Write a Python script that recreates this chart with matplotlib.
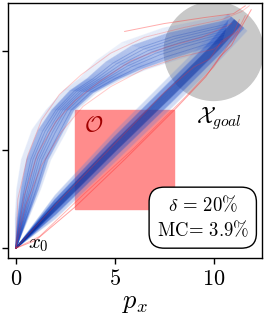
import numpy as np
import matplotlib
matplotlib.use("Agg")
import matplotlib.pyplot as plt
from matplotlib.patches import Rectangle, Circle

plt.rcParams['mathtext.fontset'] = 'cm'
plt.rcParams['font.family'] = ['DejaVu Serif']

# upper family of trajectories (around the obstacle): inner / outer edge
upper_in_x = [0, 0.6, 1.2, 1.7, 2.4, 3.0, 4.0, 5.3, 6.5, 8.0, 9.0, 10.4]
upper_in_y = [0, 1.5, 3.0, 4.5, 5.8, 7.0, 7.9, 8.6, 9.1, 9.6, 9.9, 10.4]
upper_out_x = [0, 0.0, 0.1, 0.35, 0.9, 1.6, 2.5, 3.3, 4.2, 5.5, 7.5, 10.8]
upper_out_y = [0, 1.5, 3.0, 4.5, 6.0, 7.0, 8.0, 8.6, 9.5, 10.4, 11.1, 11.8]

# diagonal family: lower / upper edge
diag_lo_x = [0, 2.0, 5.0, 8.0, 10.4, 11.6]
diag_lo_y = [0, 1.6, 4.5, 7.4, 9.8, 11.1]
diag_hi_x = [0, 2.0, 5.0, 8.0, 9.8, 10.8]
diag_hi_y = [0, 2.6, 5.8, 8.8, 10.6, 11.8]

# failed (red) trajectories
red_paths = [
    ([0, 1.0, 3.0, 5.5, 8.0, 9.6, 10.3, 10.9, 11.5, 11.9],
     [0, 0.4, 2.1, 4.5, 7.0, 8.7, 9.7, 10.3, 11.4, 12.1]),
    ([0, 1.2, 3.5, 6.0, 8.5, 10.0, 10.6, 11.2, 11.6],
     [0, 0.6, 2.8, 5.1, 7.6, 9.2, 10.1, 11.0, 11.8]),
    ([0, 0.1, 0.6, 1.3, 2.2, 3.3, 4.8, 6.5, 8.5, 10.4, 11.4, 11.8],
     [0, 2.5, 4.7, 6.5, 7.8, 8.8, 9.9, 10.7, 11.2, 11.6, 12.0, 12.3]),
    ([0, 0.4, 1.1, 2.0, 3.0, 4.3, 5.8, 7.6, 9.4, 10.9],
     [0, 2.6, 4.8, 6.4, 7.5, 8.5, 9.5, 10.2, 10.7, 11.4]),
    ([0, 0.5, 1.3, 2.3, 3.4, 4.8, 6.5, 8.3, 10.0, 11.2],
     [0, 2.2, 4.2, 5.9, 7.2, 8.2, 9.1, 9.7, 10.1, 11.0]),
    ([0, 2.0, 5.0, 7.5, 9.0, 9.8, 10.4, 11.0, 11.3],
     [0, 2.2, 5.3, 7.9, 9.2, 9.6, 10.5, 10.9, 11.6]),
    ([5.5, 7.5, 9.5, 11.0, 11.6],
     [11.0, 11.4, 11.7, 11.9, 12.3]),
]
red_alpha = [0.45, 0.35, 0.25, 0.25, 0.25, 0.3, 0.4]

obs_x, obs_y, obs_w, obs_h = 3, 2, 5, 5
goal_c, goal_r = (10, 10), 2.5

fig = plt.figure(figsize=(2.65, 3.19), dpi=100)
ax = fig.add_axes([0.030, 0.191, 0.959, 0.800])

ax.add_patch(Rectangle((obs_x, obs_y), obs_w, obs_h, color='#ff8c8c', zorder=1))
ax.add_patch(Circle(goal_c, goal_r, color='#c8c8c8', zorder=1))

ui_x, ui_y = np.array(upper_in_x), np.array(upper_in_y)
uo_x, uo_y = np.array(upper_out_x), np.array(upper_out_y)


def band(ax, ax_, ay_, bx_, by_, fracs, color, alpha, lw):
    for f in fracs:
        ax.plot((1 - f) * ax_ + f * bx_, (1 - f) * ay_ + f * by_,
                color=color, alpha=alpha, lw=lw, zorder=2, solid_capstyle='round')


band(ax, ui_x, ui_y, uo_x, uo_y, np.linspace(-0.05, 1.05, 45), '#5a82dc', 0.1, 0.8)
band(ax, ui_x, ui_y, uo_x, uo_y, np.linspace(0.05, 0.85, 40), '#2a5ad0', 0.2, 0.8)
band(ax, ui_x, ui_y, uo_x, uo_y, [0.15, 0.28, 0.37, 0.45, 0.53, 0.62, 0.7], '#0c3cb8', 0.25, 0.7)

dl_x, dl_y = np.array(diag_lo_x), np.array(diag_lo_y)
dh_x, dh_y = np.array(diag_hi_x), np.array(diag_hi_y)
band(ax, dl_x, dl_y, dh_x, dh_y, np.linspace(-0.1, 1.1, 40), '#5a82dc', 0.14, 0.9)
band(ax, dl_x, dl_y, dh_x, dh_y, np.linspace(0.1, 0.9, 30), '#1e50cc', 0.22, 0.9)
band(ax, dl_x, dl_y, dh_x, dh_y, np.linspace(0.3, 0.7, 14), '#0830a0', 0.3, 0.9)

for (px, py), a in zip(red_paths, red_alpha):
    ax.plot(px, py, color='#ff3030', alpha=a, lw=0.7, zorder=3)

ax.text(3.95, 6.2, r'$\mathcal{O}$', color='#a00000', fontsize=16,
        ha='center', va='center', zorder=4)
ax.text(10.25, 6.6, r'$\mathcal{X}_{goal}$', color='black', fontsize=16,
        ha='center', va='center', zorder=4)
ax.text(0.6, 0.2, r'$x_0$', fontsize=15, ha='left', va='center', zorder=4)
ax.text(9.45, 1.55, '$\\delta\\,=\\,20\\%$\n$\\mathrm{MC}\\!=\\,3.9\\%$', fontsize=13.5,
        ha='center', va='center', linespacing=1.3, zorder=5,
        bbox=dict(boxstyle='round,pad=0.4,rounding_size=0.8', fc='white', ec='black', lw=1))

ax.set_xlim(-0.4, 12.45)
ax.set_ylim(-0.5, 12.45)
ax.set_xticks([0, 5, 10])
ax.set_xticklabels(['$0$', '$5$', '$10$'], fontsize=16)
ax.set_yticks([0, 5, 10])
ax.set_yticklabels([])
ax.tick_params(direction='out', length=4, width=1)
for s in ax.spines.values():
    s.set_linewidth(1)
ax.set_xlabel('$p_x$', fontsize=19, labelpad=0)

fig.savefig('out.png', dpi=100)
